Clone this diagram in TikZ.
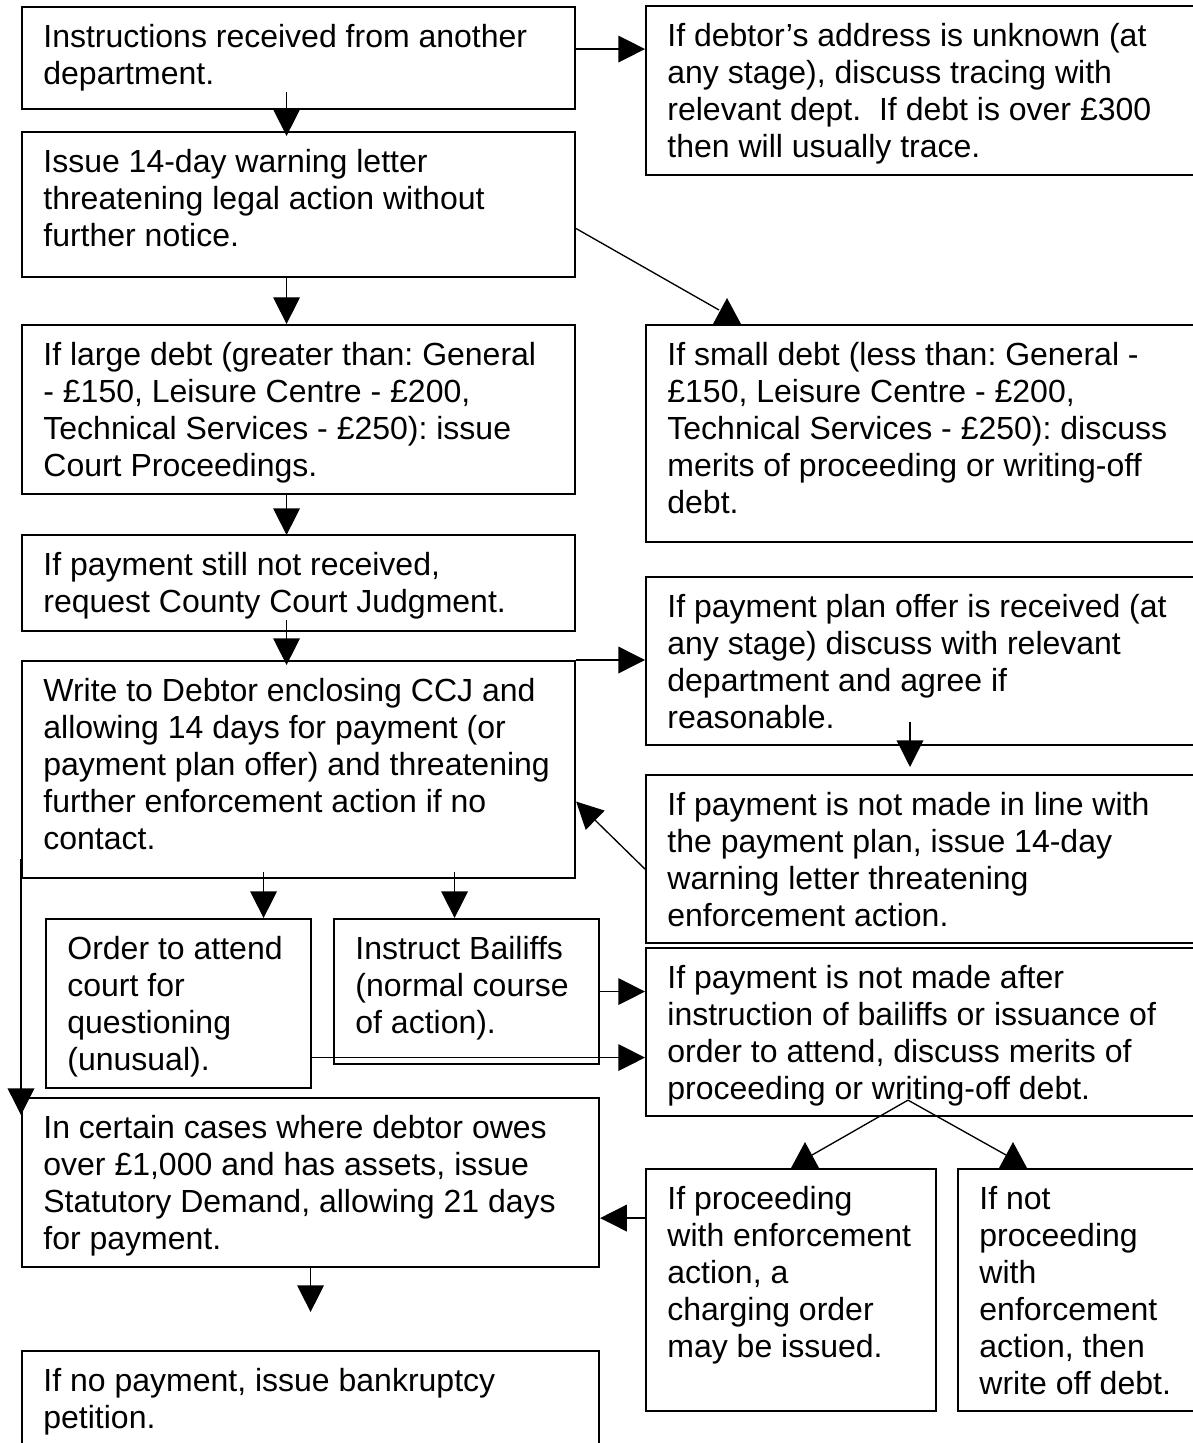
\documentclass[tikz,border=0pt]{standalone}
\usepackage{fontspec}
\setmainfont{Liberation Sans}
\usepackage{tikz}
\usetikzlibrary{positioning, arrows.meta, calc}
\frenchspacing
\newdimen\PixUnit
\PixUnit=0.375pt
\newcommand{\BoxText}[3]{\makebox[\dimexpr#1\PixUnit-16pt\relax][l]{\parbox[t][\dimexpr#2\PixUnit-11.2pt\relax][t]{300pt}{\raggedright\strut#3}}}
\tikzset{
    flowbox/.style={draw, line width=0.8pt, anchor=north west, inner xsep=8pt, inner ysep=5.6pt,
      font=\fontsize{12pt}{13.875pt}\selectfont},
    uptip/.pic={\fill (-14,0) -- (0,-26) -- (14,0) -- cycle;},
}

\begin{document}
\begin{tikzpicture}[x=0.375pt, y=-0.375pt]
    \tikzset{
      >={Triangle[length=10pt, width=10pt]},
      every edge/.append style={line width=0.5pt},
    }
    \useasboundingbox (0,0) rectangle (1193,1443);

    % left column
    \node[flowbox] (instr) at (21,6) {\BoxText{553}{102}{Instructions received from another\\department.}};
    \node[flowbox] (warn) at (21,131) {\BoxText{553}{145}{Issue 14-day warning letter\\threatening legal action without\\further notice.}};
    \node[flowbox] (large) at (21,324) {\BoxText{553}{169}{If large debt (greater than: General\\- £150, Leisure Centre - £200,\\Technical Services - £250): issue\\Court Proceedings.}};
    \node[flowbox] (judgment) at (21,534) {\BoxText{553}{96}{If payment still not received,\\request County Court Judgment.}};
    \node[flowbox] (write) at (21,660) {\BoxText{553}{217}{Write to Debtor enclosing CCJ and\\allowing 14 days for payment (or\\payment plan offer) and threatening\\further enforcement action if no\\contact.}};
    \node[flowbox] (order) at (45,918) {\BoxText{265}{169}{Order to attend\\court for\\questioning\\(unusual).}};
    \node[flowbox] (bailiffs) at (333,918) {\BoxText{265}{145}{Instruct Bailiffs\\(normal course\\of action).}};
    \node[flowbox] (statdemand) at (21,1097) {\BoxText{577}{169}{In certain cases where debtor owes\\over £1,000 and has assets, issue\\Statutory Demand, allowing 21 days\\for payment.}};
    \node[flowbox] (bankrupt) at (21,1350) {\BoxText{577}{120}{If no payment, issue bankruptcy\\petition.}};

    % right column
    \node[flowbox] (trace) at (645,5) {\BoxText{560}{169}{If debtor’s address is unknown (at\\any stage), discuss tracing with\\relevant dept.~~If debt is over £300\\then will usually trace.}};
    \node[flowbox] (small) at (645,324) {\BoxText{560}{217}{If small debt (less than: General -\\£150, Leisure Centre - £200,\\Technical Services - £250): discuss\\merits of proceeding or writing-off\\debt.}};
    \node[flowbox] (plan) at (645,576) {\BoxText{560}{168}{If payment plan offer is received (at\\any stage) discuss with relevant\\department and agree if\\reasonable.}};
    \node[flowbox] (planwarn) at (645,774) {\BoxText{560}{168}{If payment is not made in line with\\the payment plan, issue 14-day\\warning letter threatening\\enforcement action.}};
    \node[flowbox] (merits) at (645,947) {\BoxText{560}{168}{If payment is not made after\\instruction of bailiffs or issuance of\\order to attend, discuss merits of\\proceeding or writing-off debt.}};
    \node[flowbox] (charging) at (645,1168) {\BoxText{290}{242}{If proceeding\\with enforcement\\action, a\\charging order\\may be issued.}};
    \node[flowbox] (writeoff) at (957,1168) {\BoxText{250}{242}{If not\\proceeding\\with\\enforcement\\action, then\\write off debt.}};

    % main column
    \draw ([shift={(-12,-18)}]instr.south) edge[->] ([shift={(-12,5)}]warn.north);
    \draw ([shift={(-12,0)}]warn.south) edge[->] ([shift={(-12,0)}]large.north);
    \draw ([shift={(-12,0)}]large.south) edge[->] ([shift={(-12,1)}]judgment.north);
    \draw ([shift={(-12,-12)}]judgment.south) edge[->] ([shift={(-12,5)}]write.north);

    % side branches
    \coordinate (c1) at ([shift={(0,-9)}]instr.east);
    \draw (c1) edge[->] (c1 -| trace.west);
    \draw ([shift={(0,24)}]warn.east) edge ([shift={(74,-14)}]small.north west);
    \pic at ([shift={(82,0)}]small.north west) {uptip};
    \draw (write.north east) edge[->] (write.north east -| plan.west);
    \draw ([shift={(265,-24)}]plan.south west) edge[->] ([shift={(265,-7)}]planwarn.north west);
    \draw ([shift={(0,10)}]planwarn.west) edge[->] ([shift={(0,32)}]write.east);

    % enforcement
    \coordinate (c2) at ([shift={(-35,-7)}]write.south);
    \coordinate (c3) at ([shift={(156,-7)}]write.south);
    \draw (c2) edge[->] (c2 |- order.north);
    \draw (c3) edge[->] (c3 |- bailiffs.north);
    \draw ([shift={(0,-20)}]write.south west) edge[->] ([shift={(0,18)}]statdemand.north west);
    \draw (bailiffs.east) edge[->] (bailiffs.east -| merits.west);
    \coordinate (c4) at ([shift={(0,54)}]order.east);
    \draw (c4) edge[->] (c4 -| merits.west);
    \draw ([shift={(263,-17)}]merits.south west) edge ([shift={(167,-13)}]charging.north west);
    \draw ([shift={(263,-17)}]merits.south west) edge ([shift={(49,-13)}]writeoff.north west);
    \pic at ([shift={(160,0)}]charging.north west) {uptip};
    \pic at ([shift={(56,0)}]writeoff.north west) {uptip};
    \coordinate (c5) at ([shift={(0,-72)}]charging.west);
    \draw (c5) edge[->] (c5 -| statdemand.east);
    \draw (statdemand.south) edge[->] ([shift={(0,-38)}]bankrupt.north);
\end{tikzpicture}
\end{document}
